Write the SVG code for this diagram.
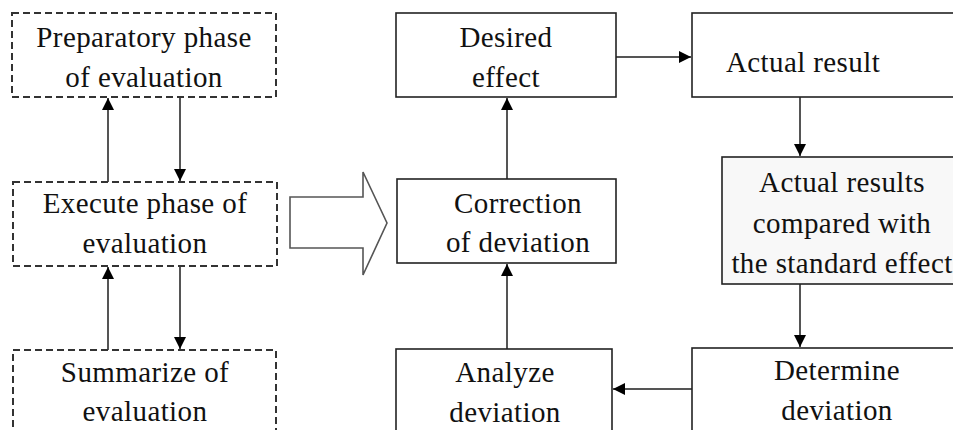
<svg xmlns="http://www.w3.org/2000/svg" width="953" height="430" viewBox="0 0 953 430" font-family="Liberation Serif, Times New Roman, Times, DejaVu Serif, Noto Serif, serif">
<style>
.dash{fill:#fff;stroke:#333;stroke-width:2;stroke-dasharray:7 4}
.box{fill:#fff;stroke:#222;stroke-width:1.6}
.grey{fill:#f8f8f8}
.conn{stroke:#555;stroke-width:2;fill:none;marker-end:url(#ah)}
text{font-size:29px;fill:#111;text-anchor:middle;letter-spacing:0.4px}
</style>
<defs>
<marker id="ah" viewBox="0 0 10 10" refX="10" refY="5" markerWidth="12" markerHeight="12" markerUnits="userSpaceOnUse" orient="auto">
<path d="M0,0 L10,5 L0,10 Z" fill="#000"/>
</marker>
</defs>
<rect width="953" height="430" fill="#fff"/>
<g id="connectors">
<line class="conn" x1="108" y1="182" x2="108" y2="98"/>
<line class="conn" x1="180" y1="97" x2="180" y2="181"/>
<line class="conn" x1="108" y1="350" x2="108" y2="267"/>
<line class="conn" x1="180" y1="266" x2="180" y2="349"/>
<line class="conn" x1="507" y1="179" x2="507" y2="98"/>
<line class="conn" x1="507" y1="349" x2="507" y2="264"/>
<line class="conn" x1="616" y1="57" x2="691" y2="57"/>
<line class="conn" x1="800" y1="97" x2="800" y2="156"/>
<line class="conn" x1="800" y1="284" x2="800" y2="347"/>
<line class="conn" x1="692" y1="389" x2="613" y2="389"/>
<polygon id="bigarrow" points="290,197 363,197 363,172 387,223 363,275 363,248 290,248" fill="#fff" stroke="#555" stroke-width="1.6"/>
</g>
<g id="prep">
<rect class="dash" x="12" y="13" width="264" height="84"/>
<text x="144" y="47">Preparatory phase</text>
<text x="144" y="87">of evaluation</text>
</g>
<g id="execute">
<rect class="dash" x="13" y="182" width="264" height="84"/>
<text x="145" y="213">Execute phase of</text>
<text x="145" y="253">evaluation</text>
</g>
<g id="summarize">
<rect class="dash" x="13" y="350" width="263" height="100"/>
<text x="145" y="382">Summarize of</text>
<text x="145" y="421">evaluation</text>
</g>
<g id="desired">
<rect class="box" x="396" y="13" width="220" height="84"/>
<text x="506" y="47">Desired</text>
<text x="506" y="87">effect</text>
</g>
<g id="actual">
<rect class="box" x="692" y="13" width="280" height="84"/>
<text x="803" y="72">Actual result</text>
</g>
<g id="compared">
<rect class="box grey" x="722" y="157" width="250" height="127"/>
<text x="842" y="192">Actual results</text>
<text x="842" y="233">compared with</text>
<text x="842" y="273">the standard effect</text>
</g>
<g id="correction">
<rect class="box" x="397" y="179" width="219" height="84"/>
<text x="518" y="213">Correction</text>
<text x="518" y="252">of deviation</text>
</g>
<g id="analyze">
<rect class="box" x="396" y="349" width="216" height="100"/>
<text x="505" y="382">Analyze</text>
<text x="505" y="422">deviation</text>
</g>
<g id="determine">
<rect class="box" x="692" y="348" width="280" height="100"/>
<text x="837" y="380">Determine</text>
<text x="837" y="420">deviation</text>
</g>
</svg>
